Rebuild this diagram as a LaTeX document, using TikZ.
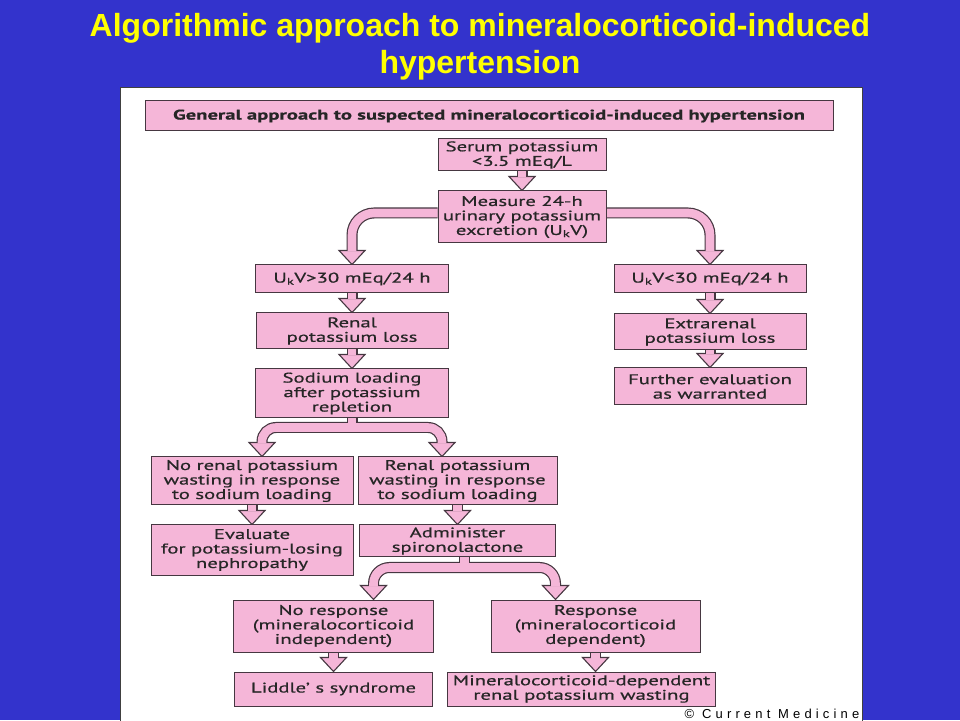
\documentclass[tikz,border=0pt]{standalone}
\usepackage{fontspec}
\setmainfont{Liberation Sans}
\newfontfamily\boxfont[FakeStretch=1.48, FakeBold=0.7]{PT Sans}
\usetikzlibrary{positioning, backgrounds}

\definecolor{slideblue}{RGB}{51,51,204}
\definecolor{titleyellow}{RGB}{255,255,0}
\definecolor{boxpink}{RGB}{245,182,216}
\definecolor{boxline}{RGB}{70,55,65}

\tikzset{
    box/.style = {draw=boxline, fill=boxpink, line width=1pt, align=center,
        inner sep=0pt, text=black!85, font=\boxfont\fontsize{14}{14.5}\selectfont},
    shaftout/.style = {draw=boxline, line width=11pt},
    shaftin/.style = {draw=boxpink, line width=8.6pt},
    headtip/.style = {draw=boxline, fill=boxpink, line width=1.1pt, line join=miter}
}

% straight block arrow from #1 down to the tip #2
\newcommand\flowdown[2]{%
    \coordinate (ftip) at (#2);
    \draw[shaftout] (#1) -- ([yshift=10pt]ftip);
    \draw[headtip] (ftip) -- ++(-13,14) -- ++(26,0) -- cycle;
    \draw[shaftin] (#1) -- ([yshift=13pt]ftip);
}

% bent block arrow: across from #2, then down to the tip #3
\newcommand\flowturn[3][20pt]{%
    \coordinate (ftip) at (#3);
    \draw[shaftout, rounded corners=#1] (#2) -| ([yshift=10pt]ftip);
    \draw[headtip] (ftip) -- ++(-13,14) -- ++(26,0) -- cycle;
    \draw[shaftin, rounded corners=#1] (#2) -| ([yshift=13pt]ftip);
}

\begin{document}
\begin{tikzpicture} [x=1pt, y=1pt,
            node distance = 50pt,
            on grid]

        \useasboundingbox (0,0) rectangle (960,720);

        % Title
        \node (title) [text=titleyellow, align=center, inner sep=0pt,
            font=\fontsize{32}{37}\bfseries\selectfont]
            at (480,673.5) {Algorithmic approach to mineralocorticoid-induced\\hypertension};

        % Header
        \node (header) [box, minimum width=688pt, minimum height=30pt,
            font=\boxfont\bfseries\fontsize{14}{14.5}\selectfont]
            at (489,604) {General approach to suspected mineralocorticoid-induced hypertension};

        % Serum potassium
        \node (serum) [box, minimum width=168pt, minimum height=32pt,
            below right = 39pt and 33pt of header] {Serum potassium\\<3.5 mEq/L};

        % Measure
        \node (measure) [box, minimum width=168pt, minimum height=52pt,
            below = 62pt of serum] {Measure 24-h\\urinary potassium\\excretion (U\textsubscript{k}V)};

        % UkV > 30
        \node (ukhigh) [box, minimum width=193pt, minimum height=28pt,
            below left = 62pt and 170pt of measure] {U\textsubscript{k}V>30 mEq/24 h};

        % UkV < 30
        \node (uklow) [box, minimum width=192pt, minimum height=28pt,
            right = 358pt of ukhigh] {U\textsubscript{k}V<30 mEq/24 h};

        % Renal loss
        \node (renal) [box, minimum width=192pt, minimum height=36pt,
            below = 52pt of ukhigh] {Renal\\potassium loss};

        % Sodium loading
        \node (sodium) [box, minimum width=193pt, minimum height=49pt,
            below = 62.5pt of renal] {Sodium loading\\after potassium\\repletion};

        % Extrarenal loss
        \node (extra) [box, minimum width=192pt, minimum height=36pt,
            below = 53pt of uklow] {Extrarenal\\potassium loss};

        % Further evaluation
        \node (further) [box, minimum width=192pt, minimum height=37pt,
            below = 54.5pt of extra] {Further evaluation\\as warranted};

        % No renal wasting
        \node (norenal) [box, minimum width=202pt, minimum height=48pt,
            below left = 87.5pt and 100pt of sodium] {No renal potassium\\wasting in response\\to sodium loading};

        % Renal wasting
        \node (wasting) [box, minimum width=199pt, minimum height=48pt,
            right = 205.5pt of norenal] {Renal potassium\\wasting in response\\to sodium loading};

        % Evaluate
        \node (evaluate) [box, minimum width=202pt, minimum height=50pt,
            below = 69pt of norenal] {Evaluate\\for potassium-losing\\nephropathy};

        % Spironolactone
        \node (spiro) [box, minimum width=196pt, minimum height=32pt,
            below = 60pt of wasting] {Administer\\spironolactone};

        % No response
        \node (noresp) [box, minimum width=200pt, minimum height=52pt,
            below left = 85pt and 124pt of spiro] {No response\\(mineralocorticoid\\independent)};

        % Response
        \node (resp) [box, minimum width=209pt, minimum height=52pt,
            right = 262pt of noresp] {Response\\(mineralocorticoid\\dependent)};

        % Liddle
        \node (liddle) [box, minimum width=198pt, minimum height=34pt,
            below = 63pt of noresp] {Liddle’ s syndrome};

        % Mineralocorticoid-dependent wasting
        \node (mcwasting) [box, minimum width=268pt, minimum height=34pt,
            below left = 63pt and 14pt of resp] {Mineralocorticoid-dependent\\renal potassium wasting};

        % Credit
        \node (credit) [fill=white, anchor=south east, inner sep=1.5pt,
            font=\fontsize{13}{13}\selectfont\addfontfeatures{LetterSpace=32}]
            at (861,0) {© Current Medicine};

        % Split points
        \coordinate (mleft) at ([yshift=4pt]measure.west);
        \coordinate (mright) at ([yshift=4pt]measure.east);
        \coordinate (ssplit) at ([yshift=-9pt]sodium.south);
        \coordinate (asplit) at ([xshift=7pt, yshift=-10pt]spiro.south);
        \coordinate (nltip) at ([xshift=-90pt]norenal.north -| ssplit);
        \coordinate (nrtip) at ([xshift=90pt]norenal.north -| ssplit);
        \coordinate (altip) at ([xshift=-91pt]noresp.north -| asplit);
        \coordinate (artip) at ([xshift=91pt]noresp.north -| asplit);

        \begin{scope}[on background layer]
            % Slide and panel
            \fill[slideblue] (0,0) rectangle (960,720);
            \draw[fill=white, draw=black!75, line width=1pt] (120.5,-1) rectangle (862,632);

            % Arrows
            \flowdown{serum.south}{serum.south |- measure.north}
            \flowturn[22pt]{mleft}{ukhigh.north}
            \flowturn[22pt]{mright}{uklow.north}
            \flowdown{ukhigh.south}{ukhigh.south |- renal.north}
            \flowdown{renal.south}{renal.south |- sodium.north}
            \flowdown{uklow.south}{uklow.south |- extra.north}
            \flowdown{extra.south}{extra.south |- further.north}

            \draw[shaftout] (sodium.south) -- ([yshift=-5.5pt]ssplit);
            \flowturn[14pt]{ssplit}{nltip}
            \flowturn[14pt]{ssplit}{nrtip}
            \draw[shaftin] (sodium.south) -- ([yshift=-4.3pt]ssplit);

            \flowdown{norenal.south}{norenal.south |- evaluate.north}
            \flowdown{wasting.south}{wasting.south |- spiro.north}

            \draw[shaftout] (asplit |- spiro.south) -- ([yshift=-5.5pt]asplit);
            \flowturn[16pt]{asplit}{altip}
            \flowturn[16pt]{asplit}{artip}
            \draw[shaftin] (asplit |- spiro.south) -- ([yshift=-4.3pt]asplit);

            \flowdown{noresp.south}{noresp.south |- liddle.north}
            \flowdown{resp.south}{resp.south |- mcwasting.north}
        \end{scope}
\end{tikzpicture}
\end{document}
